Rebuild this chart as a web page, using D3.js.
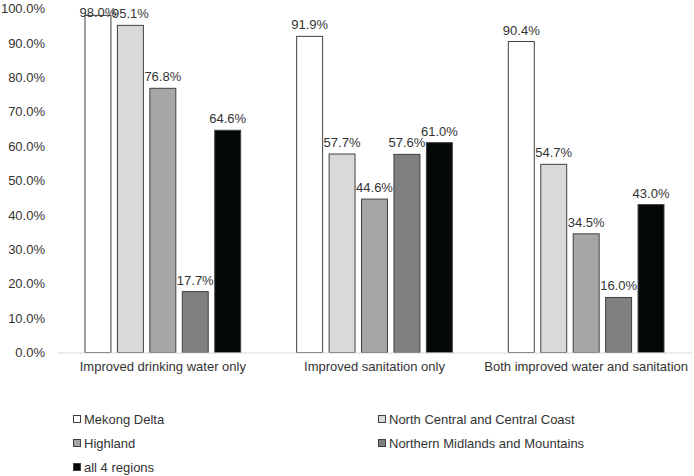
<!DOCTYPE html>
<html>
<head>
<meta charset="utf-8">
<script src="https://cdn.jsdelivr.net/npm/d3@7"></script>
<style>
  body { margin: 0; background: #fff; }
  text { font-family: "Liberation Sans", Arial, sans-serif; fill: #333; }
</style>
</head>
<body>
<div class="container"></div>
<script>
var categories = ['Improved drinking water only', 'Improved sanitation only', 'Both improved water and sanitation'];
var series = ['Mekong Delta', 'North Central and Central Coast', 'Highland', 'Northern Midlands and Mountains', 'all 4 regions'];
var mekong = [98.0, 91.9, 90.4];
var northCentral = [95.1, 57.7, 54.7];
var highland = [76.8, 44.6, 34.5];
var northernMidlands = [17.7, 57.6, 16.0];
var allRegions = [64.6, 61.0, 43.0];
var yTicks = [0, 10, 20, 30, 40, 50, 60, 70, 80, 90, 100];
var colors = ['#ffffff', '#d9d9d9', '#a6a6a6', '#7f7f7f', '#050808'];

var w = 694, h = 476;
var values = [mekong, northCentral, highland, northernMidlands, allRegions];

var svg = d3.select('.container')
  .append('svg')
  .attr('width', w)
  .attr('height', h);

/* scales */
var x0 = d3.scaleBand()
  .domain(categories)
  .range([57, 692]);

var x1 = d3.scaleBand()
  .domain(series)
  .range([28, x0.bandwidth() - 28])
  .paddingInner(0.2);

var yScale = d3.scaleLinear()
  .domain([0, 100])
  .range([352.5, 8.5]);

/* y axis labels */
var yAxis = d3.axisLeft(yScale)
  .tickValues(yTicks)
  .tickSize(0)
  .tickPadding(0)
  .tickFormat(function(d) { return d.toFixed(1) + '%'; });

var gy = svg.append('g')
  .attr('transform', 'translate(45,0)')
  .call(yAxis);
gy.select('.domain').remove();
gy.selectAll('text')
  .attr('font-size', '13px')
  .attr('font-family', '"Liberation Sans", Arial, sans-serif')
  .style('fill', '#333');

/* bars */
var groups = svg.selectAll('g.cat')
  .data(categories)
  .enter()
  .append('g')
  .attr('class', 'cat')
  .attr('transform', function(d) { return 'translate(' + x0(d) + ',0)'; });

groups.selectAll('rect')
  .data(function(d, ci) {
    return series.map(function(s, si) { return { s: s, si: si, v: values[si][ci] }; });
  })
  .enter()
  .append('rect')
  .attr('x', function(d) { return x1(d.s); })
  .attr('y', function(d) { return yScale(d.v); })
  .attr('width', x1.bandwidth())
  .attr('height', function(d) { return yScale(0) - yScale(d.v); })
  .attr('fill', function(d) { return colors[d.si]; })
  .attr('stroke', '#404040')
  .attr('stroke-width', 1);

groups.selectAll('text.val')
  .data(function(d, ci) {
    return series.map(function(s, si) { return { s: s, si: si, v: values[si][ci] }; });
  })
  .enter()
  .append('text')
  .attr('class', 'val')
  .attr('text-anchor', 'middle')
  .attr('x', function(d) { return x1(d.s) + x1.bandwidth() / 2; })
  .attr('y', function(d) { return Math.max(yScale(d.v) - 7, 17); })
  .attr('font-size', '13px')
  .text(function(d) { return d.v.toFixed(1) + '%'; });

/* x axis */
var xAxis = d3.axisBottom(x0).tickSize(0).tickPadding(9);
var gx = svg.append('g')
  .attr('transform', 'translate(0,' + yScale(0) + ')')
  .call(xAxis);
gx.select('.domain').attr('stroke', '#d9d9d9');
gx.selectAll('text')
  .attr('font-size', '13px')
  .attr('font-family', '"Liberation Sans", Arial, sans-serif')
  .style('fill', '#333');

/* legend */
var legendPos = [[73, 419], [378, 419], [73, 443], [378, 443], [73, 467]];
var legend = svg.selectAll('g.leg')
  .data(series)
  .enter()
  .append('g')
  .attr('class', 'leg')
  .attr('transform', function(d, i) { return 'translate(' + legendPos[i][0] + ',' + legendPos[i][1] + ')'; });

legend.append('rect')
  .attr('x', 0.5).attr('y', -3.5)
  .attr('width', 7).attr('height', 7)
  .attr('fill', function(d, i) { return colors[i]; })
  .attr('stroke', '#404040');

legend.append('text')
  .attr('x', 11)
  .attr('y', 0)
  .attr('dy', '0.35em')
  .attr('font-size', '13px')
  .text(function(d) { return d; });
</script>
</body>
</html>
